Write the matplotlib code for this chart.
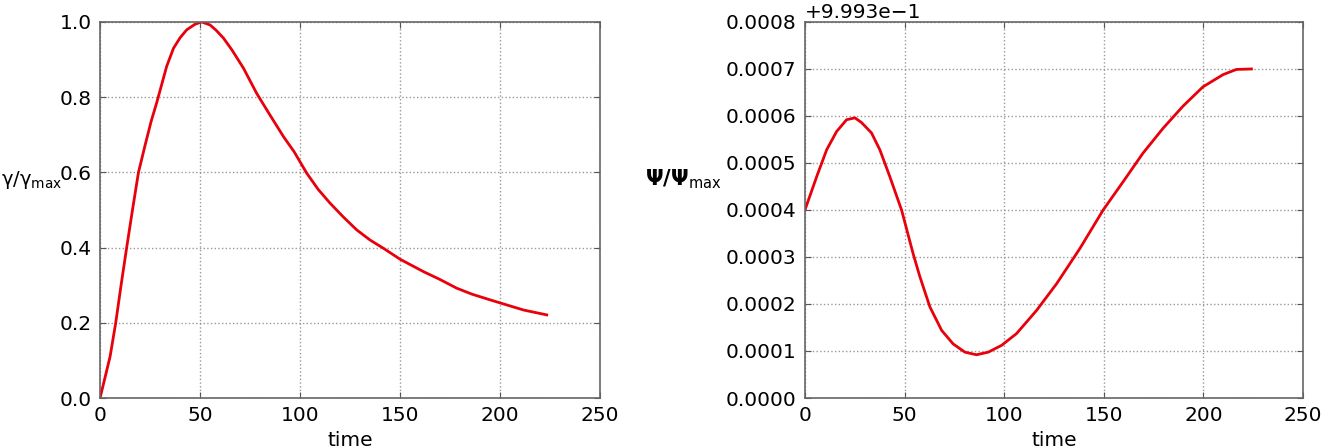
import numpy as np
import matplotlib
matplotlib.use("Agg")
import matplotlib.pyplot as plt
from matplotlib.ticker import ScalarFormatter

# 增长率 gamma/gamma_max
t_gamma = [0, 5, 7.8, 10.5, 13.3, 16.2, 19.2, 22.5, 25.5, 28.3, 30, 33.3, 36.7, 40,
           43.3, 47.5, 50.8, 55, 58, 61.7, 66, 71.7, 78.3, 85, 91.7, 97, 103.3,
           109, 115, 121.5, 128.3, 135, 141.7, 150, 161.7, 170, 178.3, 186, 195,
           203, 211.7, 223.3]
gamma = [0.0, 0.11, 0.199, 0.30, 0.40, 0.50, 0.60, 0.672, 0.735, 0.785, 0.818, 0.882,
         0.93, 0.958, 0.979, 0.994, 1.0, 0.992, 0.978, 0.957, 0.925, 0.877, 0.81,
         0.752, 0.695, 0.655, 0.598, 0.555, 0.518, 0.482, 0.447, 0.42, 0.398,
         0.369, 0.336, 0.315, 0.292, 0.276, 0.261, 0.248, 0.234, 0.221]

# 磁通 Psi/Psi_max（相对 0.9993 的偏差，单位 1e-4）
psi_offset = 0.9993
t_psi = [0, 5.9, 10.9, 15.9, 20.9, 25.1, 28.4, 33.4, 37.6, 42.6, 48.5, 54.3, 57.7,
         62.7, 68.6, 74.4, 80.3, 86.1, 92, 98.7, 106.2, 116.2, 126.3, 138, 149.7,
         159.7, 169.7, 179.8, 189.8, 199.8, 209.9, 216.6, 224.1]
psi_dev = [4.0, 4.71, 5.28, 5.67, 5.92, 5.96, 5.86, 5.64, 5.28, 4.71, 4.0, 3.07,
           2.58, 1.94, 1.44, 1.15, 0.975, 0.92, 0.975, 1.12, 1.37, 1.86, 2.43,
           3.18, 4.0, 4.6, 5.21, 5.74, 6.21, 6.62, 6.88, 6.99, 7.0]

x_ticks = [0, 50, 100, 150, 200, 250]

fig = plt.figure(figsize=(13.36, 4.48), dpi=100)
ax1 = fig.add_axes([0.0749, 0.1116, 0.3743, 0.8394])
ax2 = fig.add_axes([0.6025, 0.1116, 0.3728, 0.8394])

for ax in (ax1, ax2):
    ax.set_xlim(0, 250)
    ax.set_xticks(x_ticks)
    ax.grid(True, color='#999999', linestyle=':', linewidth=1)
    ax.tick_params(direction='in', top=True, right=True, labelsize=14.5,
                   length=4, color='#555555', pad=6)
    for s in ax.spines.values():
        s.set_color('#666666')
        s.set_linewidth(1.2)
    ax.set_xlabel('time', fontsize=14.5)

ax1.plot(t_gamma, gamma, color='#e8000b', lw=2)
ax1.set_ylim(0, 1)
ax1.set_yticks(np.arange(0, 1.01, 0.2))
ax1.set_ylabel(r'$\mathregular{\gamma/\gamma_{max}}$', fontsize=14, rotation=0)
ax1.yaxis.set_label_coords(-0.137, 0.55)

psi = psi_offset + np.array(psi_dev) * 1e-4
ax2.plot(t_psi, psi, color='#e8000b', lw=2)
ax2.set_ylim(psi_offset, psi_offset + 0.0008)
ax2.set_yticks(psi_offset + np.arange(0, 9) * 1e-4)
fmt = ScalarFormatter(useOffset=psi_offset)
fmt.set_scientific(False)
ax2.yaxis.set_major_formatter(fmt)
ax2.yaxis.get_offset_text().set_fontsize(14.5)
ax2.set_ylabel(r'$\mathbf{\Psi/\Psi}_{\mathregular{max}}$', fontsize=15, rotation=0)
ax2.yaxis.set_label_coords(-0.245, 0.55)

fig.savefig('out.png', dpi=100)
